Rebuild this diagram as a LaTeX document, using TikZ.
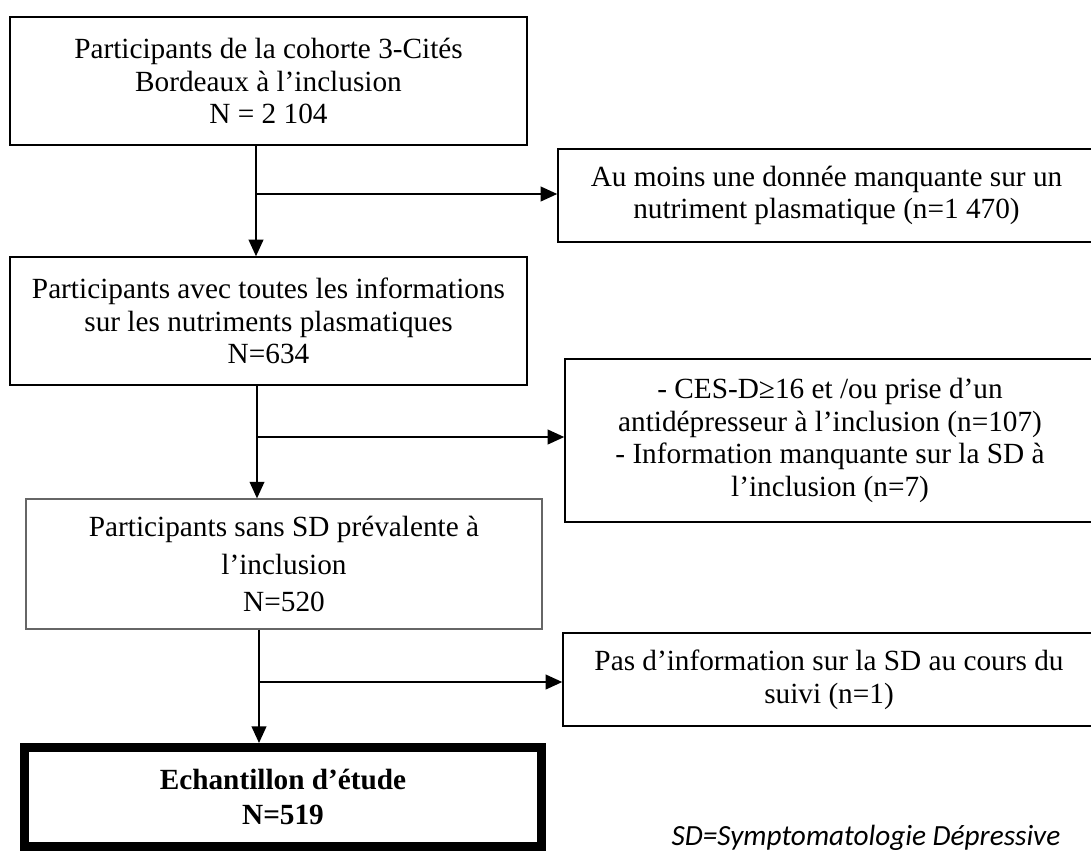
\documentclass[tikz,border=0pt]{standalone}
\usepackage{fontspec}
\setmainfont{Liberation Serif}
\newfontfamily\notefont{Carlito}
\usetikzlibrary{arrows.meta}
\newcommand{\pxl}[1]{#1*0.41pt}

\begin{document}
\begin{tikzpicture}[x=0.41pt,y=-0.41pt,
        box/.style={draw=black, line width=0.6pt, inner sep=0pt, align=center,
            font=\fontsize{12}{13.4}\selectfont},
        arr/.style={line width=0.8pt, -{Triangle[length=6.8pt,width=6pt]}}]
            \useasboundingbox (0,0) rectangle (1091,852);
            % boxes of the main column
            \node[box, minimum width=\pxl{517}, minimum height=\pxl{128}] (start) at (268.5,81)
                {Participants de la cohorte 3-Cités\\Bordeaux à l’inclusion\\N = 2 104};
            \node[box, minimum width=\pxl{517}, minimum height=\pxl{128}] (elig) at (268.5,321)
                {Participants avec toutes les informations\\sur les nutriments plasmatiques\\N=634};
            \node[box, draw=black!60, line width=0.5pt, font=\fontsize{12}{15.4}\selectfont,
                minimum width=\pxl{516}, minimum height=\pxl{130}] (nodep) at (284,564)
                {Participants sans SD prévalente à\\l’inclusion\\N=520};
            \node[box, line width=3.7pt, font=\fontsize{12}{14.4}\selectfont\bfseries,
                minimum width=\pxl{517}, minimum height=\pxl{99}] (final) at (283,797)
                {Echantillon d’étude\\N=519};
            % exclusions on the right
            \node[box, minimum width=\pxl{537}, minimum height=\pxl{93}] (excl1) at (826.5,195.5)
                {Au moins une donnée manquante sur un\\nutriment plasmatique (n=1 470)};
            \node[box, minimum width=\pxl{530}, minimum height=\pxl{163}] (excl2) at (830,440.5)
                {- CES-D≥16 et /ou prise d’un\\antidépresseur à l’inclusion (n=107)\\- Information manquante sur la SD à\\l’inclusion (n=7)};
            \node[box, minimum width=\pxl{532}, minimum height=\pxl{93}] (excl3) at (829,679.5)
                {Pas d’information sur la SD au cours du\\suivi (n=1)};
            \node[anchor=base, inner sep=0pt, font=\notefont\itshape\fontsize{12}{14}\selectfont] (note) at (866,845)
                {SD=Symptomatologie Dépressive};
            % branch points
            \coordinate (t1) at (256,194);
            \coordinate (t2) at (257,437);
            \coordinate (t3) at (259,682);
            \draw[arr] (start.south -| t1) -- (elig.north -| t1);
            \draw[arr] (t1) -- (excl1.west |- t1);
            \draw[arr] (elig.south -| t2) -- (nodep.north -| t2);
            \draw[arr] (t2) -- (excl2.west |- t2);
            \draw[arr] (nodep.south -| t3) -- (final.north -| t3);
            \draw[arr] (t3) -- (excl3.west |- t3);
        \end{tikzpicture}
\end{document}
